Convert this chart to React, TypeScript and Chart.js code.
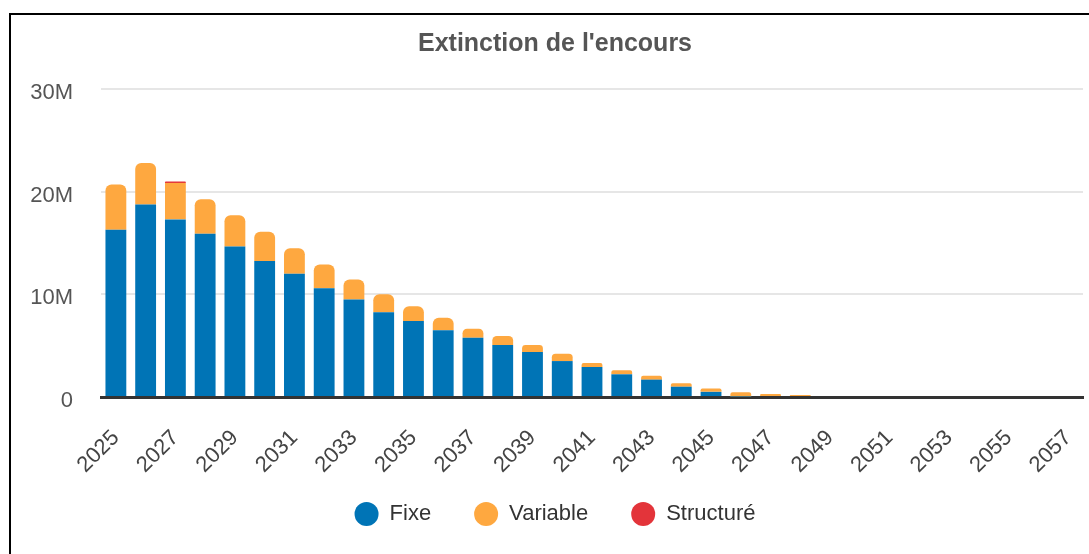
import React, { useEffect, useRef } from "react";
import { Chart, registerables } from "chart.js";

Chart.register(...registerables);

const years = [
  "2025", "2026", "2027", "2028", "2029", "2030", "2031", "2032", "2033", "2034", "2035",
  "2036", "2037", "2038", "2039", "2040", "2041", "2042", "2043", "2044", "2045", "2046",
  "2047", "2048", "2049", "2050", "2051", "2052", "2053", "2054", "2055", "2056", "2057",
];

// values in millions
const fixe = [
  16.3, 18.75, 17.3, 15.9, 14.65, 13.25, 12.0, 10.6, 9.5, 8.25, 7.4,
  6.5, 5.77, 5.06, 4.38, 3.5, 2.92, 2.21, 1.69, 1.0, 0.5, 0.05,
  0, 0, 0, 0, 0, 0, 0, 0, 0, 0, 0,
];
const variable = [
  4.4, 4.05, 3.55, 3.35, 3.05, 2.85, 2.5, 2.3, 1.95, 1.75, 1.43,
  1.22, 0.88, 0.88, 0.68, 0.72, 0.39, 0.39, 0.38, 0.33, 0.33, 0.42,
  0.3, 0.2, 0, 0, 0, 0, 0, 0, 0, 0, 0,
];
const structure = [
  0, 0, 0.15, 0, 0, 0, 0, 0, 0, 0, 0,
  0, 0, 0, 0, 0, 0, 0, 0, 0, 0, 0,
  0, 0, 0, 0, 0, 0, 0, 0, 0, 0, 0,
];

const seriesNames = ["Fixe", "Variable", "Structuré"];
const seriesColors = ["#0074B6", "#FEA840", "#E3343A"];
const yTickValues = [0, 10, 20, 30];
const chartTitle = "Extinction de l'encours";

const FONT = "Arial, 'Liberation Sans', sans-serif";

const unclipXLabels = {
  id: "unclipXLabels",
  afterLayout(chart: any) {
    const x = chart.scales.x;
    if (x) x.bottom = chart.height;
  },
};

export default function App() {
  const ref = useRef<HTMLCanvasElement>(null);

  useEffect(() => {
    if (!ref.current) return;
    const series = [fixe, variable, structure];

    const topIndex = (i: number) => {
      let top = -1;
      series.forEach((s, d) => {
        if (s[i] > 0) top = d;
      });
      return top;
    };

    const datasets = series.map((data, d) => ({
      label: seriesNames[d],
      data,
      backgroundColor: seriesColors[d],
      borderWidth: 0,
      barPercentage: 0.7,
      categoryPercentage: 1.0,
      borderRadius: (ctx: any) =>
        topIndex(ctx.dataIndex) === d
          ? { topLeft: 6, topRight: 6, bottomLeft: 0, bottomRight: 0 }
          : 0,
    }));

    const chart = new Chart(ref.current, {
      type: "bar",
      data: { labels: years, datasets },
      plugins: [unclipXLabels],
      options: {
        animation: false,
        responsive: true,
        maintainAspectRatio: false,
        layout: { padding: { left: 16, right: 6, top: 0, bottom: 19 } },
        plugins: {
          title: {
            display: true,
            text: chartTitle,
            color: "#555555",
            font: { family: FONT, size: 25, weight: "bold" },
            padding: { top: 14, bottom: 30 },
          },
          legend: {
            position: "bottom",
            labels: {
              usePointStyle: true,
              pointStyle: "circle",
              boxHeight: 17,
              pointStyleWidth: 24,
              padding: 43,
              color: "#333333",
              font: { family: FONT, size: 22 },
            },
          },
          tooltip: { enabled: false },
        },
        scales: {
          x: {
            stacked: true,
            grid: { display: false },
            border: { display: true, color: "#333333", width: 3 },
            afterFit: (scale: any) => {
              scale.paddingLeft = 0;
              scale.paddingRight = 0;
              scale.height = 63;
            },
            ticks: {
              autoSkip: false,
              maxRotation: 45,
              minRotation: 45,
              padding: 20,
              color: "#444444",
              font: { family: FONT, size: 22 },
              callback: (_v: any, i: number) => (i % 2 === 0 ? years[i] : ""),
            },
          },
          y: {
            stacked: true,
            min: yTickValues[0],
            max: yTickValues[yTickValues.length - 1],
            afterBuildTicks: (axis: any) => {
              axis.ticks = yTickValues.map((v) => ({ value: v }));
            },
            afterFit: (scale: any) => {
              scale.width = 74;
            },
            grid: { color: "#e6e6e6", lineWidth: 2, drawTicks: false },
            border: { display: false },
            ticks: {
              padding: 28,
              labelOffset: 4,
              color: "#555555",
              font: { family: FONT, size: 22 },
              callback: (v: any) => (v === 0 ? "0" : v + "M"),
            },
          },
        },
      },
    });
    return () => chart.destroy();
  }, []);

  return (
    <div
      style={{
        position: "absolute",
        left: 0,
        top: 0,
        width: 1089,
        height: 554,
        overflow: "hidden",
        background: "#fff",
      }}
    >
      <div
        style={{
          position: "absolute",
          left: 9,
          top: 13,
          width: 1100,
          height: 560,
          borderLeft: "2px solid #000",
          borderTop: "2px solid #000",
        }}
      />
      <div style={{ position: "absolute", left: 11, top: 15, width: 1078, height: 539 }}>
        <canvas ref={ref} />
      </div>
    </div>
  );
}
